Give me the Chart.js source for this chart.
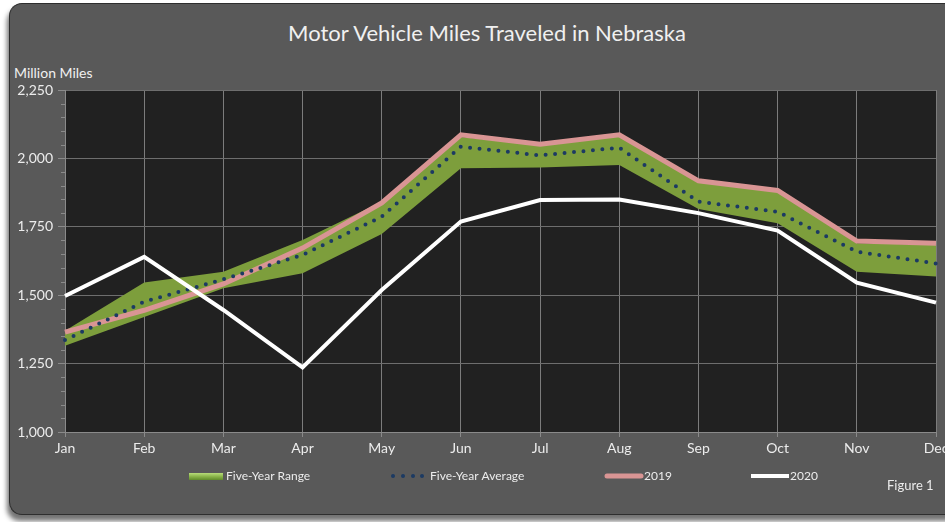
<!DOCTYPE html>
<html>
<head>
<meta charset="utf-8">
<script src="https://cdn.jsdelivr.net/npm/chart.js@4/dist/chart.umd.min.js"></script>
<style>
  html, body { margin: 0; padding: 0; background: #fff; overflow: hidden; }
  #page { position: relative; width: 945px; height: 522px; overflow: hidden; }
  .frame {
    position: absolute; left: 9px; top: 3px; width: 1400px; height: 510px;
    background: #595959; border: 1px solid #2e2e2e; border-right: none;
    border-radius: 13px 0 0 13px;
    box-shadow: -2px 6px 5px rgba(0,0,0,0.55);
  }
  .title {
    position: absolute; left: 0; width: 974px; top: 19px; text-align: center;
    font-family: Lato, sans-serif; font-size: 22px; color: #f0f0f0;
  }
  .unit {
    position: absolute; left: 14px; top: 64px;
    font-family: Lato, sans-serif; font-size: 14px; color: #f0f0f0;
  }
  .wrap { position: absolute; left: 0; top: 0; width: 970px; height: 522px; }
</style>
</head>
<body>
<div id="page">
<div class="frame"></div>
<div class="title">Motor Vehicle Miles Traveled in Nebraska</div>
<div class="unit">Million Miles</div>
<div class="wrap"><canvas id="vmt" width="970" height="522"></canvas></div>
</div>
<script>
// ===== Data =====
const months = ['Jan', 'Feb', 'Mar', 'Apr', 'May', 'Jun', 'Jul', 'Aug', 'Sep', 'Oct', 'Nov', 'Dec'];
const rangeLow  = [1315, 1420, 1525, 1580, 1724, 1964, 1967, 1976, 1815, 1763, 1586, 1568];
const rangeHigh = [1370, 1546, 1586, 1702, 1842, 2078, 2049, 2080, 1915, 1878, 1690, 1684];
const avg5yr    = [1336, 1476, 1558, 1647, 1787, 2043, 2011, 2039, 1842, 1805, 1659, 1616];
const y2019     = [1365, 1445, 1541, 1672, 1837, 2086, 2052, 2086, 1918, 1883, 1698, 1690];
const y2020     = [1497, 1640, 1446, 1236, 1519, 1769, 1848, 1850, 1800, 1736, 1546, 1473];
const yTicks    = [1000, 1250, 1500, 1750, 2000, 2250];

const FONT = 'Lato, sans-serif';
const TXT = '#ececec';

// plot background + minor y ticks
const plotBg = {
  id: 'plotBg',
  beforeDraw(chart) {
    const { ctx, chartArea: a } = chart;
    ctx.save();
    ctx.fillStyle = '#212121';
    ctx.fillRect(a.left, a.top, a.right - a.left, a.bottom - a.top);
    ctx.restore();
  },
  afterDraw(chart) {
    const { ctx, chartArea: a } = chart;
    const ys = chart.scales.y;
    ctx.save();
    ctx.strokeStyle = '#8a8a8a';
    ctx.lineWidth = 1;
    for (let v = yTicks[0]; v <= yTicks[yTicks.length - 1]; v += 50) {
      if (v % 250 === 0) continue;
      const py = Math.round(ys.getPixelForValue(v)) + 0.5;
      ctx.beginPath();
      ctx.moveTo(a.left - 4, py);
      ctx.lineTo(a.left, py);
      ctx.stroke();
    }
    ctx.restore();
  }
};

// legend drawn by hand to match the spacing of the original
const legendRow = {
  id: 'legendRow',
  afterDraw(chart) {
    const ctx = chart.ctx;
    const y = 476;
    ctx.save();
    ctx.font = '12px ' + FONT;
    ctx.fillStyle = TXT;
    ctx.textBaseline = 'middle';

    // five-year range swatch
    const g = ctx.createLinearGradient(0, y - 3, 0, y + 4);
    g.addColorStop(0, '#b7dc7a');
    g.addColorStop(0.5, '#8ab44a');
    g.addColorStop(1, '#5f8a2a');
    ctx.fillStyle = g;
    ctx.fillRect(189, y - 3, 34, 7);
    ctx.fillStyle = TXT;
    ctx.fillText('Five-Year Range', 226, y);

    // five-year average dots
    ctx.fillStyle = '#1c3a63';
    [393, 403, 413, 422].forEach(x => {
      ctx.beginPath();
      ctx.arc(x, y, 2, 0, Math.PI * 2);
      ctx.fill();
    });
    ctx.fillStyle = TXT;
    ctx.fillText('Five-Year Average', 430, y);

    // 2019
    ctx.lineCap = 'round';
    ctx.strokeStyle = '#d99594';
    ctx.lineWidth = 5;
    ctx.beginPath(); ctx.moveTo(607, y); ctx.lineTo(641, y); ctx.stroke();
    ctx.fillText('2019', 644, y);

    // 2020
    ctx.lineCap = 'butt';
    ctx.strokeStyle = '#ffffff';
    ctx.lineWidth = 4;
    ctx.beginPath(); ctx.moveTo(751, y); ctx.lineTo(789, y); ctx.stroke();
    ctx.fillText('2020', 790, y);

    ctx.font = '13px ' + FONT;
    ctx.fillText('Figure 1', 887, 486);
    ctx.restore();
  }
};

document.addEventListener('DOMContentLoaded', () => {
  const ctx = document.getElementById('vmt').getContext('2d');

  new Chart(ctx, {
    type: 'line',
    data: {
      labels: months,
      datasets: [
        {
          label: 'Five-Year Low',
          data: rangeLow,
          borderColor: 'rgba(0,0,0,0)',
          borderWidth: 0,
          pointRadius: 0,
          fill: false,
          order: 4
        },
        {
          label: 'Five-Year Range',
          data: rangeHigh,
          borderColor: 'rgba(0,0,0,0)',
          borderWidth: 0,
          backgroundColor: '#7d9e3c',
          pointRadius: 0,
          fill: '-1',
          order: 3
        },
        {
          label: '2019',
          data: y2019,
          borderColor: '#d99594',
          borderWidth: 5,
          pointRadius: 0,
          fill: false,
          order: 2
        },
        {
          label: 'Five-Year Average',
          data: avg5yr,
          borderColor: '#1c3a63',
          borderWidth: 4,
          borderDash: [0, 9.5],
          borderCapStyle: 'round',
          pointRadius: 0,
          fill: false,
          order: 1
        },
        {
          label: '2020',
          data: y2020,
          borderColor: '#ffffff',
          borderWidth: 4,
          pointRadius: 0,
          fill: false,
          order: 0
        }
      ]
    },
    options: {
      responsive: false,
      animation: false,
      layout: { padding: { left: 0, right: 34, top: 90, bottom: 62 } },
      plugins: {
        legend: { display: false },
        tooltip: { enabled: false }
      },
      scales: {
        x: {
          offset: false,
          grid: { color: '#7c7c7c', lineWidth: 1, tickLength: 5, tickColor: '#8a8a8a' },
          border: { color: '#8a8a8a' },
          ticks: { color: TXT, font: { family: FONT, size: 14 }, padding: 3, maxRotation: 0 },
          afterFit(scale) { scale.height = 28; }
        },
        y: {
          min: yTicks[0],
          max: yTicks[yTicks.length - 1],
          afterBuildTicks(scale) { scale.ticks = yTicks.map(v => ({ value: v })); },
          grid: { color: '#6e6e6e', lineWidth: 1, tickLength: 7, tickColor: '#8a8a8a' },
          border: { color: '#8a8a8a' },
          ticks: {
            color: TXT,
            font: { family: FONT, size: 14 },
            padding: 5,
            callback: v => v.toLocaleString('en-US')
          },
          afterFit(scale) { scale.width = 65; }
        }
      }
    },
    plugins: [plotBg, legendRow]
  });
});
</script>
</body>
</html>
